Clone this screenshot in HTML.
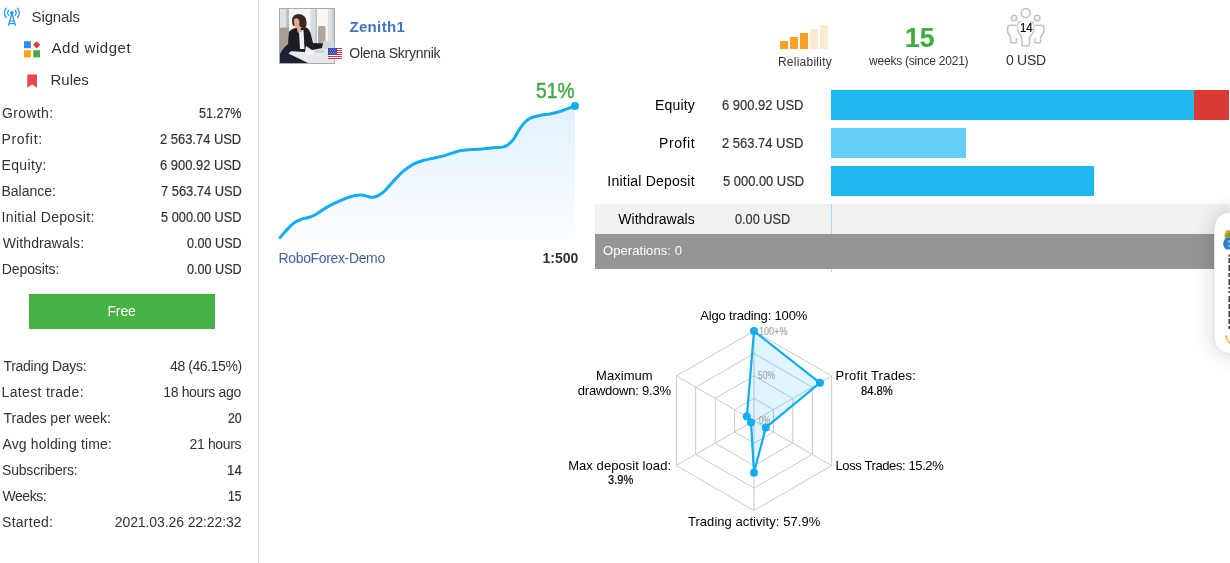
<!DOCTYPE html>
<html lang="en">
<head>
<meta charset="utf-8">
<title>Zenith1 - Trading Signal</title>
<style>
html,body{margin:0;padding:0;background:#fff;}
body{width:1230px;height:563px;position:relative;overflow:hidden;font-family:"Liberation Sans",sans-serif;color:#333;font-size:14px;}
.vline{position:absolute;left:258px;top:0;width:1px;height:563px;background:#dcdcdc;}
.btn{position:absolute;left:29px;top:294px;width:186px;height:35px;background:#46b244;}
.bar{position:absolute;height:30px;background:#20b7f0;}
.x{position:absolute;white-space:pre;line-height:20px;height:20px;}
</style>
</head>
<body>

<aside aria-label="Signal sidebar">
<div class="vline"></div>
<nav>
<svg style="position:absolute;left:0px;top:4px" width="26" height="26" viewBox="0 4 26 26" fill="none" stroke="#2d9af2" stroke-width="1.3" stroke-linecap="round" stroke-linejoin="round">
  <circle cx="11.9" cy="12.8" r="1.9" fill="#2d9af2" stroke="none"/>
  <path d="M11.9 13.5 L8.5 25.3 M11.9 13.5 L15.3 25.3 M9.9 21.1 H13.9 M9.2 23.7 H14.6"/>
  <path d="M8.7 10.2 A3.9 3.9 0 0 0 8.7 15.4"/>
  <path d="M15.1 10.2 A3.9 3.9 0 0 1 15.1 15.4"/>
  <path d="M6.3 8.3 A6.7 6.7 0 0 0 6.3 17.5"/>
  <path d="M17.5 8.3 A6.7 6.7 0 0 1 17.5 17.5"/>
</svg>
<span class="x" style="left:31.60px;top:6.80px;font-size:15px;color:#333333;letter-spacing:-0.15px;">Signals</span>
<svg style="position:absolute;left:24px;top:41px" width="17" height="17" viewBox="0 0 17 17">
  <rect x="0" y="0.2" width="6.9" height="7" fill="#2f8fef"/>
  <rect x="10.05" y="1.25" width="5.1" height="5.1" fill="#e8383d" transform="rotate(45 12.6 3.8)"/>
  <rect x="0" y="9.2" width="6.9" height="7.2" fill="#ffa616"/>
  <rect x="9.3" y="9.2" width="6.7" height="7.2" fill="#47ad4b"/>
</svg>
<span class="x" style="left:51.50px;top:37.80px;font-size:15px;color:#333333;letter-spacing:0.55px;">Add widget</span>
<svg style="position:absolute;left:27px;top:74px" width="11" height="15" viewBox="0 0 11 15">
  <path d="M0.3 0.4 H10 V13.8 L5.15 10.6 L0.3 13.8 Z" fill="#e94848"/>
</svg>
<span class="x" style="left:50.50px;top:69.80px;font-size:15px;color:#333333;letter-spacing:-0.01px;">Rules</span>
</nav>
<div class="stats">
  <div><span class="x" style="left:2.10px;top:103.15px;font-size:14px;color:#333333;letter-spacing:0.33px;">Growth:</span><span class="x" style="left:199.40px;top:103.15px;font-size:14px;color:#333333;letter-spacing:0.00px;transform:scaleX(0.8951);transform-origin:0 0;-webkit-text-stroke:0.2px #333333;">51.27%</span></div>
  <div><span class="x" style="left:1.50px;top:129.15px;font-size:14px;color:#333333;letter-spacing:0.67px;">Profit:</span><span class="x" style="left:160.20px;top:129.15px;font-size:14px;color:#333333;letter-spacing:0.00px;transform:scaleX(0.9233);transform-origin:0 0;-webkit-text-stroke:0.2px #333333;">2 563.74 USD</span></div>
  <div><span class="x" style="left:1.50px;top:155.15px;font-size:14px;color:#333333;letter-spacing:0.36px;">Equity:</span><span class="x" style="left:160.20px;top:155.15px;font-size:14px;color:#333333;letter-spacing:0.00px;transform:scaleX(0.9233);transform-origin:0 0;-webkit-text-stroke:0.2px #333333;">6 900.92 USD</span></div>
  <div><span class="x" style="left:1.50px;top:181.15px;font-size:14px;color:#333333;letter-spacing:-0.01px;">Balance:</span><span class="x" style="left:160.50px;top:181.15px;font-size:14px;color:#333333;letter-spacing:0.00px;transform:scaleX(0.9199);transform-origin:0 0;-webkit-text-stroke:0.2px #333333;">7 563.74 USD</span></div>
  <div><span class="x" style="left:1.60px;top:207.15px;font-size:14px;color:#333333;letter-spacing:0.32px;">Initial Deposit:</span><span class="x" style="left:160.90px;top:207.15px;font-size:14px;color:#333333;letter-spacing:0.00px;transform:scaleX(0.9154);transform-origin:0 0;-webkit-text-stroke:0.2px #333333;">5 000.00 USD</span></div>
  <div><span class="x" style="left:2.80px;top:233.15px;font-size:14px;color:#333333;letter-spacing:0.10px;">Withdrawals:</span><span class="x" style="left:186.70px;top:233.15px;font-size:14px;color:#333333;letter-spacing:0.00px;transform:scaleX(0.9012);transform-origin:0 0;-webkit-text-stroke:0.2px #333333;">0.00 USD</span></div>
  <div><span class="x" style="left:1.80px;top:259.15px;font-size:14px;color:#333333;letter-spacing:-0.10px;">Deposits:</span><span class="x" style="left:186.70px;top:259.15px;font-size:14px;color:#333333;letter-spacing:0.00px;transform:scaleX(0.9012);transform-origin:0 0;-webkit-text-stroke:0.2px #333333;">0.00 USD</span></div>
</div>
<div class="btn"><span class="x" style="left:78.40px;top:7.15px;font-size:14px;color:#ffffff;letter-spacing:-0.10px;">Free</span></div>
<div class="stats">
  <div><span class="x" style="left:3.50px;top:356.15px;font-size:14px;color:#333333;letter-spacing:-0.29px;">Trading Days:</span><span class="x" style="left:170.00px;top:356.15px;font-size:14px;color:#333333;letter-spacing:-0.41px;">48 (46.15%)</span></div>
  <div><span class="x" style="left:1.50px;top:382.15px;font-size:14px;color:#333333;letter-spacing:0.35px;">Latest trade:</span><span class="x" style="left:163.20px;top:382.15px;font-size:14px;color:#333333;letter-spacing:-0.33px;">18 hours ago</span></div>
  <div><span class="x" style="left:3.50px;top:408.15px;font-size:14px;color:#333333;letter-spacing:-0.01px;">Trades per week:</span><span class="x" style="left:227.60px;top:408.15px;font-size:14px;color:#333333;letter-spacing:0.00px;transform:scaleX(0.8805);transform-origin:0 0;-webkit-text-stroke:0.2px #333333;">20</span></div>
  <div><span class="x" style="left:2.50px;top:434.15px;font-size:14px;color:#333333;letter-spacing:0.14px;">Avg holding time:</span><span class="x" style="left:189.60px;top:434.15px;font-size:14px;color:#333333;letter-spacing:-0.37px;">21 hours</span></div>
  <div><span class="x" style="left:2.10px;top:460.15px;font-size:14px;color:#333333;letter-spacing:-0.21px;">Subscribers:</span><span class="x" style="left:227.15px;top:460.15px;font-size:14px;color:#333333;letter-spacing:0.00px;transform:scaleX(0.9536);transform-origin:0 0;-webkit-text-stroke:0.2px #333333;">14</span></div>
  <div><span class="x" style="left:2.50px;top:486.15px;font-size:14px;color:#333333;letter-spacing:-0.45px;">Weeks:</span><span class="x" style="left:227.83px;top:486.15px;font-size:14px;color:#333333;letter-spacing:0.00px;transform:scaleX(0.8657);transform-origin:0 0;-webkit-text-stroke:0.2px #333333;">15</span></div>
  <div><span class="x" style="left:2.10px;top:512.15px;font-size:14px;color:#333333;letter-spacing:0.25px;">Started:</span><span class="x" style="left:114.80px;top:512.15px;font-size:14px;color:#333333;letter-spacing:-0.10px;">2021.03.26 22:22:32</span></div>
</div>
</aside>

<main>
<header>
<svg id="avatar" style="position:absolute;left:279px;top:8px" width="56" height="56" viewBox="0 0 56 56">
  <defs>
    <filter id="ab" x="-5%" y="-5%" width="110%" height="110%"><feGaussianBlur stdDeviation="0.7"/></filter>
    <clipPath id="ac"><rect x="1" y="1" width="54" height="54"/></clipPath>
  </defs>
  <rect x="0" y="0" width="56" height="56" fill="#f3f5f7"/>
  <g clip-path="url(#ac)"><g filter="url(#ab)">
    <rect x="0" y="0" width="56" height="56" fill="#f4f6f8"/>
    <rect x="1" y="0" width="6" height="30" fill="#dfe2e5"/>
    <rect x="7.2" y="0" width="2.8" height="30" fill="#b9bcc0"/>
    <rect x="31.5" y="0" width="6.3" height="40" fill="#d9dce0"/>
    <rect x="36.6" y="0" width="1.2" height="40" fill="#b7babf"/>
    <rect x="49" y="0" width="5" height="40" fill="#dcdfe3"/>
    <rect x="53" y="0" width="3" height="40" fill="#c6c9cd"/>
    <rect x="39" y="18" width="7.5" height="19" rx="1.5" fill="#b1a49b"/>
    <path d="M1 21 Q1 19.5 3 19.5 H10 V52 H1 Z" fill="#a99c93"/>
    <path d="M1 55 V46 Q5 38 12 34 L24 40 L30 44 L30 55 Z" fill="#1d2130"/>
    <path d="M9.5 45.5 L14 41.5 L56 39.5 V56 H31 Z" fill="#e6e8eb"/>
    <path d="M10 24 Q13 19.5 19 20 L27 19.5 Q31 21 32 27 L34 35 L44 35.5 L44 40 L33 42 L27 38 L26 44 L9 43 Q9 32 10 24 Z" fill="#1b1c24"/>
    <path d="M20 23 L24.5 22 L25.5 41 L21 41 Z" fill="#f2f2f2"/>
    <path d="M13 13 Q13 6 20 6 Q27 6.5 27.5 14 Q28 19 25 21 L20 18 L14.5 18 Q13 16 13 13 Z" fill="#3b2822"/>
    <path d="M14.8 12 Q15 10 18 10.2 Q20 11 20.5 14 L20 20 Q17 21 15.5 18.5 Z" fill="#dcab90"/>
    <path d="M17.5 19 L21 17.5 L22.5 24 L19 25 Z" fill="#dcab90"/>
    <rect x="43.5" y="33" width="12" height="8" fill="#d4d7db" transform="skewX(-12) translate(8 0)"/>
    <ellipse cx="30" cy="45" rx="4" ry="2.2" fill="#f8f8f8"/>
    <rect x="36" y="42" width="9" height="3" fill="#cfd2d6"/>
  </g></g>
  <rect x="0.5" y="0.5" width="55" height="55" fill="none" stroke="#ababab"/>
</svg>
<span class="x" style="left:349.40px;top:16.80px;font-size:15px;color:#4171c5;letter-spacing:0.35px;font-weight:bold;">Zenith1</span>
<svg style="position:absolute;left:328px;top:48px" width="14" height="11" viewBox="0 0 14 11">
  <rect width="14" height="11" fill="#fff"/>
  <g fill="#e2353f"><rect y="0" width="14" height="1"/><rect y="2" width="14" height="1"/><rect y="4" width="14" height="1"/><rect y="6" width="14" height="1"/><rect y="8" width="14" height="1"/><rect y="10" width="14" height="1"/></g>
  <rect width="9" height="7" fill="#3546ad"/>
  <g fill="#fff" fill-opacity="0.8"><circle cx="1.2" cy="1.1" r="0.45"/><circle cx="3.4" cy="1.1" r="0.45"/><circle cx="5.6" cy="1.1" r="0.45"/><circle cx="7.8" cy="1.1" r="0.45"/><circle cx="2.3" cy="2.7" r="0.45"/><circle cx="4.5" cy="2.7" r="0.45"/><circle cx="6.7" cy="2.7" r="0.45"/><circle cx="1.2" cy="4.3" r="0.45"/><circle cx="3.4" cy="4.3" r="0.45"/><circle cx="5.6" cy="4.3" r="0.45"/><circle cx="7.8" cy="4.3" r="0.45"/><circle cx="2.3" cy="5.9" r="0.45"/><circle cx="4.5" cy="5.9" r="0.45"/><circle cx="6.7" cy="5.9" r="0.45"/></g>
</svg>
<span class="x" style="left:349.30px;top:43.15px;font-size:14px;color:#333333;letter-spacing:-0.29px;">Olena Skrynnik</span>
</header>

<section aria-label="Growth">
<svg style="position:absolute;left:270px;top:70px" width="320" height="180" viewBox="270 70 320 180">
  <defs>
    <linearGradient id="gfill" x1="0" y1="0" x2="0" y2="1">
      <stop offset="0" stop-color="#e2f2fe"/>
      <stop offset="1" stop-color="#fbfdff"/>
    </linearGradient>
  </defs>
  <path id="area" fill="url(#gfill)" d="M280.0 237.6 C281.0 236.4 283.9 232.9 286.2 230.5 C288.5 228.1 291.2 225.0 293.7 223.1 C296.2 221.2 298.6 220.2 301.1 219.3 C303.6 218.4 306.1 218.3 308.6 217.5 C311.1 216.7 313.3 215.9 316.1 214.3 C318.9 212.7 322.3 210.0 325.4 208.1 C328.5 206.2 331.3 204.7 334.7 203.1 C338.1 201.5 342.5 199.7 345.9 198.4 C349.3 197.2 352.5 196.1 355.3 195.6 C358.1 195.1 360.5 195.0 362.7 195.2 C364.9 195.4 366.6 196.2 368.3 196.6 C370.0 196.9 371.3 197.5 373.0 197.3 C374.7 197.1 376.6 196.5 378.6 195.4 C380.6 194.3 382.5 193.1 385.1 190.5 C387.7 187.9 391.3 183.4 394.4 180.1 C397.5 176.8 400.6 173.5 403.7 170.9 C406.8 168.3 409.9 166.1 413.0 164.4 C416.1 162.7 418.9 161.7 422.3 160.7 C425.7 159.7 429.8 159.0 433.5 158.2 C437.2 157.3 440.3 156.8 444.7 155.6 C449.1 154.4 455.3 151.8 459.7 150.8 C464.1 149.8 467.2 149.8 470.9 149.5 C474.6 149.2 478.3 149.2 482.0 148.9 C485.7 148.6 489.8 148.1 493.2 147.8 C496.6 147.5 499.9 147.6 502.4 147.1 C504.9 146.6 506.1 146.0 508.0 144.7 C509.9 143.4 511.7 141.6 513.6 139.1 C515.5 136.6 517.3 132.5 519.2 129.7 C521.1 126.9 522.9 124.2 524.8 122.3 C526.7 120.4 527.9 119.3 530.4 118.2 C532.9 117.1 536.3 116.2 539.7 115.5 C543.1 114.8 547.5 114.4 550.9 113.7 C554.3 113.0 557.1 112.4 560.2 111.4 C563.3 110.4 567.1 108.8 569.6 107.9 C572.1 107.0 574.1 106.2 575.0 105.8 L575 240 L280 240 Z"/>
  <path id="curve" fill="none" stroke="#10adef" stroke-width="3" stroke-linecap="round" stroke-linejoin="round" d="M280.0 237.6 C281.0 236.4 283.9 232.9 286.2 230.5 C288.5 228.1 291.2 225.0 293.7 223.1 C296.2 221.2 298.6 220.2 301.1 219.3 C303.6 218.4 306.1 218.3 308.6 217.5 C311.1 216.7 313.3 215.9 316.1 214.3 C318.9 212.7 322.3 210.0 325.4 208.1 C328.5 206.2 331.3 204.7 334.7 203.1 C338.1 201.5 342.5 199.7 345.9 198.4 C349.3 197.2 352.5 196.1 355.3 195.6 C358.1 195.1 360.5 195.0 362.7 195.2 C364.9 195.4 366.6 196.2 368.3 196.6 C370.0 196.9 371.3 197.5 373.0 197.3 C374.7 197.1 376.6 196.5 378.6 195.4 C380.6 194.3 382.5 193.1 385.1 190.5 C387.7 187.9 391.3 183.4 394.4 180.1 C397.5 176.8 400.6 173.5 403.7 170.9 C406.8 168.3 409.9 166.1 413.0 164.4 C416.1 162.7 418.9 161.7 422.3 160.7 C425.7 159.7 429.8 159.0 433.5 158.2 C437.2 157.3 440.3 156.8 444.7 155.6 C449.1 154.4 455.3 151.8 459.7 150.8 C464.1 149.8 467.2 149.8 470.9 149.5 C474.6 149.2 478.3 149.2 482.0 148.9 C485.7 148.6 489.8 148.1 493.2 147.8 C496.6 147.5 499.9 147.6 502.4 147.1 C504.9 146.6 506.1 146.0 508.0 144.7 C509.9 143.4 511.7 141.6 513.6 139.1 C515.5 136.6 517.3 132.5 519.2 129.7 C521.1 126.9 522.9 124.2 524.8 122.3 C526.7 120.4 527.9 119.3 530.4 118.2 C532.9 117.1 536.3 116.2 539.7 115.5 C543.1 114.8 547.5 114.4 550.9 113.7 C554.3 113.0 557.1 112.4 560.2 111.4 C563.3 110.4 567.1 108.8 569.6 107.9 C572.1 107.0 574.1 106.2 575.0 105.8"/>
  <circle cx="575" cy="106" r="4" fill="#10adef"/>
</svg>
<span class="x" style="left:536.30px;top:81.38px;font-size:22px;color:#3fa93f;letter-spacing:0.00px;-webkit-text-stroke:0.45px #3fa93f;transform:scaleX(0.8742);transform-origin:0 0;">51%</span>
<span class="x" style="left:278.60px;top:248.15px;font-size:14px;color:#42639c;letter-spacing:-0.36px;">RoboForex-Demo</span>
<span class="x" style="left:542.40px;top:248.15px;font-size:14px;color:#333333;letter-spacing:0.02px;font-weight:bold;">1:500</span>
</section>

<section aria-label="Summary">
<div>
<svg style="position:absolute;left:780px;top:25px" width="48" height="24" viewBox="0 0 48 24">
  <rect x="0" y="16" width="8" height="8" fill="#f9a124"/>
  <rect x="10" y="12" width="8" height="12" fill="#f9a124"/>
  <rect x="20" y="8" width="8" height="16" fill="#f9a124"/>
  <rect x="30" y="4" width="8" height="20" fill="#fdead2"/>
  <rect x="40" y="0" width="8" height="24" fill="#fdead2"/>
</svg>
<span class="x" style="left:777.90px;top:51.84px;font-size:12px;color:#333333;letter-spacing:0.25px;">Reliability</span>
</div>
<div><span class="x" style="left:904.65px;top:28.30px;font-size:28px;color:#41ad41;letter-spacing:0.00px;font-weight:bold;transform:scaleX(0.9468);transform-origin:0 0;-webkit-text-stroke:0.2px #41ad41;">15</span><span class="x" style="left:869.10px;top:50.84px;font-size:12px;color:#333333;letter-spacing:-0.23px;">weeks (since 2021)</span></div>
<div>
<svg style="position:absolute;left:1000px;top:2px" width="52" height="50" viewBox="1000 2 52 50" fill="none" stroke="#c3c3c3" stroke-width="1.6" stroke-linejoin="round" stroke-linecap="round">
  <defs><filter id="pb" x="-30%" y="-30%" width="160%" height="160%"><feGaussianBlur stdDeviation="1.1"/></filter></defs>
  <circle cx="1025.7" cy="13.1" r="4.5"/>
  <circle cx="1014" cy="18" r="2.7"/>
  <circle cx="1037.2" cy="18" r="2.7"/>
  <path d="M1016.3 25.3 H1010 Q1007.6 25.5 1007.6 28 V32 Q1008.6 34.5 1010.6 37 L1011 42.7 H1016.4 V38.5"/>
  <path d="M1035.1 25.3 H1041.4 Q1043.8 25.5 1043.8 28 V32 Q1042.8 34.5 1040.8 37 L1040.4 42.7 H1035 V38.5"/>
  <path d="M1021 21.6 Q1017.7 21.9 1017.7 25 V31 Q1018.8 33.8 1021.6 37 L1022.1 45.7 H1029.3 L1029.8 37 Q1032.6 33.8 1033.7 31 V25 Q1033.7 21.9 1030.4 21.6"/>
  <ellipse cx="1025.7" cy="26.6" rx="8.2" ry="5.6" fill="#fff" stroke="none" filter="url(#pb)"/>
</svg>
<span class="x" style="left:1020.40px;top:17.84px;font-size:12px;color:#000000;letter-spacing:0.00px;transform:scaleX(0.9434);transform-origin:0 0;-webkit-text-stroke:0.2px #000000;">14</span>
<span class="x" style="left:1006.00px;top:50.15px;font-size:14px;color:#333333;letter-spacing:-0.28px;">0 USD</span>
</div>
</section>

<section aria-label="Funds">
<div style="position:absolute;left:595px;top:204px;width:634px;height:30px;background:#f1f1f1;"></div>
<div style="position:absolute;left:831px;top:204px;width:1px;height:68px;background:#9fdcf7;"></div>
<div style="position:absolute;left:595px;top:234px;width:634px;height:35px;background:#959595;"></div>
<div class="bar" style="left:831px;top:90px;width:363px;"></div>
<div class="bar" style="left:1194px;top:90px;width:35px;background:#db3935;"></div>
<div class="bar" style="left:831px;top:128px;width:135px;background:#62cef6;"></div>
<div class="bar" style="left:831px;top:166px;width:263px;"></div>
  <div><span class="x" style="left:655.00px;top:95.15px;font-size:14px;color:#000000;letter-spacing:0.16px;">Equity</span><span class="x" style="left:722.30px;top:95.15px;font-size:14px;color:#333333;letter-spacing:0.00px;transform:scaleX(0.9256);transform-origin:0 0;-webkit-text-stroke:0.2px #333333;">6 900.92 USD</span></div>
  <div><span class="x" style="left:659.10px;top:133.15px;font-size:14px;color:#000000;letter-spacing:0.56px;">Profit</span><span class="x" style="left:722.30px;top:133.15px;font-size:14px;color:#333333;letter-spacing:0.00px;transform:scaleX(0.9256);transform-origin:0 0;-webkit-text-stroke:0.2px #333333;">2 563.74 USD</span></div>
  <div><span class="x" style="left:607.30px;top:171.15px;font-size:14px;color:#000000;letter-spacing:0.23px;">Initial Deposit</span><span class="x" style="left:722.60px;top:171.15px;font-size:14px;color:#333333;letter-spacing:0.00px;transform:scaleX(0.9222);transform-origin:0 0;-webkit-text-stroke:0.2px #333333;">5 000.00 USD</span></div>
  <div><span class="x" style="left:618.30px;top:209.15px;font-size:14px;color:#000000;letter-spacing:0.01px;">Withdrawals</span><span class="x" style="left:735.20px;top:209.15px;font-size:14px;color:#333333;letter-spacing:0.00px;transform:scaleX(0.9095);transform-origin:0 0;-webkit-text-stroke:0.2px #333333;">0.00 USD</span></div>
  <div><span class="x" style="left:603.00px;top:240.50px;font-size:13px;color:#ffffff;letter-spacing:0.07px;">Operations: 0</span></div>
</section>

<section aria-label="Trading profile">
<svg style="position:absolute;left:660px;top:320px" width="190" height="200" viewBox="660 320 190 200">
  <g fill="none" stroke="#c9c9c9" stroke-width="1" id="grid"><polygon points="754.0,398.4 773.4,409.6 773.4,432.0 754.0,443.2 734.6,432.0 734.6,409.6"/><polygon points="754.0,375.9 792.8,398.4 792.8,443.2 754.0,465.7 715.2,443.2 715.2,398.4"/><polygon points="754.0,353.5 812.3,387.2 812.3,454.4 754.0,488.1 695.7,454.4 695.7,387.2"/><polygon points="754.0,331.1 831.7,376.0 831.7,465.6 754.0,510.5 676.3,465.6 676.3,375.9"/><line x1="754.0" y1="420.8" x2="754.0" y2="331.1"/><line x1="754.0" y1="420.8" x2="831.7" y2="376.0"/><line x1="754.0" y1="420.8" x2="831.7" y2="465.6"/><line x1="754.0" y1="420.8" x2="754.0" y2="510.5"/><line x1="754.0" y1="420.8" x2="676.3" y2="465.6"/><line x1="754.0" y1="420.8" x2="676.3" y2="375.9"/></g>
  <polygon id="rpoly" points="754.0,331.1 819.9,382.8 765.8,427.6 754.0,472.7 751.0,422.5 746.8,416.6" fill="#10adef" fill-opacity="0.13" stroke="#10adef" stroke-width="2.2" stroke-linejoin="round"/>
  <g id="rdots" fill="#10adef"><circle cx="754.0" cy="331.1" r="4"/><circle cx="819.9" cy="382.8" r="4"/><circle cx="765.8" cy="427.6" r="4"/><circle cx="754.0" cy="472.7" r="4"/><circle cx="751.0" cy="422.5" r="4"/><circle cx="746.8" cy="416.6" r="4"/></g>
</svg>
<span class="x" style="left:700.30px;top:305.50px;font-size:13px;color:#000000;letter-spacing:-0.17px;">Algo trading: 100%</span>
<div><span class="x" style="left:596.00px;top:365.50px;font-size:13px;color:#000000;letter-spacing:0.05px;">Maximum</span><span class="x" style="left:577.80px;top:380.50px;font-size:13px;color:#000000;letter-spacing:-0.22px;">drawdown: 9.3%</span></div>
<div><span class="x" style="left:835.50px;top:365.50px;font-size:13px;color:#000000;letter-spacing:0.24px;">Profit Trades:</span><span class="x" style="left:860.50px;top:380.50px;font-size:13px;color:#000000;letter-spacing:0.00px;transform:scaleX(0.8605);transform-origin:0 0;-webkit-text-stroke:0.2px #000000;">84.8%</span></div>
<div><span class="x" style="left:568.20px;top:455.50px;font-size:13px;color:#000000;letter-spacing:0.06px;">Max deposit load:</span><span class="x" style="left:607.60px;top:469.50px;font-size:13px;color:#000000;letter-spacing:0.00px;transform:scaleX(0.8513);transform-origin:0 0;-webkit-text-stroke:0.2px #000000;">3.9%</span></div>
<span class="x" style="left:835.50px;top:455.50px;font-size:13px;color:#000000;letter-spacing:-0.39px;">Loss Trades: 15.2%</span>
<span class="x" style="left:687.90px;top:511.50px;font-size:13px;color:#000000;letter-spacing:0.06px;">Trading activity: 57.9%</span>
<span class="x" style="left:758.60px;top:321.19px;font-size:11px;color:#a6a6a6;letter-spacing:0.00px;transform:scaleX(0.8253);transform-origin:0 0;-webkit-text-stroke:0.2px #a6a6a6;">100+%</span><span class="x" style="left:758.40px;top:365.19px;font-size:11px;color:#a6a6a6;letter-spacing:0.00px;transform:scaleX(0.7690);transform-origin:0 0;-webkit-text-stroke:0.2px #a6a6a6;">50%</span><span class="x" style="left:758.70px;top:410.19px;font-size:11px;color:#a6a6a6;letter-spacing:0.00px;transform:scaleX(0.7073);transform-origin:0 0;-webkit-text-stroke:0.2px #a6a6a6;">0%</span>
</section>
</main>

<aside aria-label="Side tab">
<div style="position:absolute;left:1214px;top:212px;width:40px;height:140px;border:1px solid #ececec;border-radius:16px;background:#fff;box-shadow:0 0 22px rgba(0,0,0,0.17),0 0 3px rgba(0,0,0,0.05);"></div>
<svg style="position:absolute;left:1215px;top:213px" width="15" height="135" viewBox="1215 213 15 135">
  <path d="M1224.6 238.6 Q1223.8 232 1227 230.4 Q1229 229.5 1231 230.4 V239 H1225.2 Z" fill="#cdb436"/>
  <path d="M1225.6 234.5 Q1227.5 232.2 1231 233 V237.5 H1226 Z" fill="#8c9c36"/>
  <circle cx="1227.4" cy="231.6" r="1" fill="#f0a020"/>
  <path d="M1223.2 243.4 Q1223.5 238.8 1227.6 237.4 L1231 238.2 V249.4 H1226.6 Q1223.4 248 1223.2 243.4 Z" fill="#2a7fc4"/>
  <path d="M1227.6 240.4 H1231 V242.6 H1228 Z" fill="#8fcdf0"/>
  <path d="M1228 245 H1231 V246.8 H1228.4 Z" fill="#8fcdf0"/>
  <g fill="#4a4a4a"><rect x="1228.4" y="254.5" width="1.6" height="2"/><rect x="1228.4" y="258" width="1.6" height="5"/><rect x="1228.4" y="265" width="1.6" height="6"/><rect x="1228.4" y="273" width="1.6" height="4"/><rect x="1228.4" y="279" width="1.6" height="6"/><rect x="1228.4" y="287" width="1.6" height="2"/><rect x="1228.4" y="291" width="1.6" height="2"/><rect x="1228.4" y="296" width="1.6" height="6"/><rect x="1228.4" y="304" width="1.6" height="5"/><rect x="1228.4" y="311" width="1.6" height="6"/><rect x="1228.4" y="319" width="1.6" height="5"/><rect x="1228.4" y="326" width="1.6" height="3"/></g>
  <path d="M1226.6 335.5 Q1225.6 340.5 1230.5 343" fill="none" stroke="#f39a1e" stroke-width="1.8" stroke-dasharray="1.6 0.7"/>
</svg>
</aside>

</body>
</html>
